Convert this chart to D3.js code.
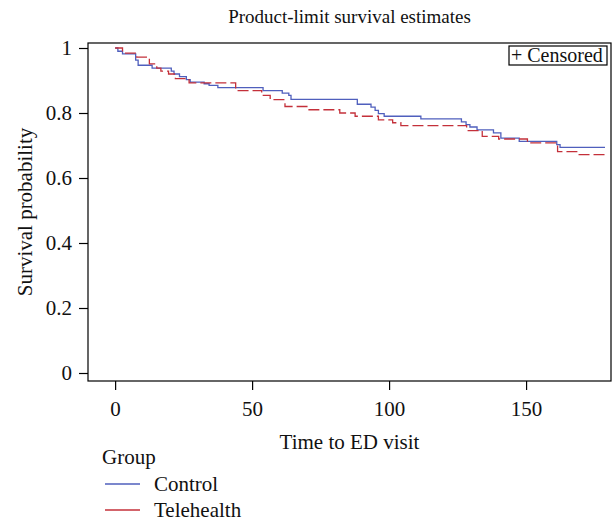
<!DOCTYPE html>
<html>
<head>
<meta charset="utf-8">
<script src="https://cdn.jsdelivr.net/npm/d3@7"></script>
<style>
	body { margin: 0; background: #fff; }
	text { font-family: "Liberation Serif", "DejaVu Serif", serif; fill: #111; }
</style>
</head>
<body>
<svg id="chart" width="615" height="520"></svg>
<script>
// step estimates: time of each drop and survival after it
const controlTimes = [0, 1.0, 2.7, 7.5, 8.4, 13.5, 20.5, 21.5, 23.5, 26, 27.4, 32.5, 34.3, 37.5, 54, 61, 63.4, 64.2, 88.4, 93.4, 94.9, 96.1, 98.2, 111.6, 126.4, 128.1, 129.5, 132.1, 138.1, 140.8, 147.5, 161.2, 162.4]
const controlSurv = [1.0, 0.99, 0.982, 0.963, 0.947, 0.938, 0.929, 0.92, 0.912, 0.903, 0.895, 0.89, 0.885, 0.878, 0.869, 0.861, 0.854, 0.842, 0.827, 0.818, 0.808, 0.798, 0.79, 0.782, 0.773, 0.764, 0.757, 0.748, 0.739, 0.723, 0.713, 0.703, 0.694]
const teleTimes = [0, 2.7, 7.9, 12.5, 15.2, 16.7, 19.5, 22, 27, 44, 53.5, 56.6, 62, 70, 82, 87.6, 96.1, 101.3, 104.3, 128.3, 134, 140, 150.5, 161.5, 168.5]
const teleSurv = [1.0, 0.984, 0.972, 0.951, 0.938, 0.929, 0.92, 0.906, 0.893, 0.869, 0.854, 0.841, 0.82, 0.81, 0.8, 0.79, 0.779, 0.77, 0.761, 0.746, 0.728, 0.72, 0.708, 0.681, 0.672]
const lastTime = 178.8

const groups = ['Control', 'Telehealth']
const groupColors = ['#4f5fbd', '#c4303a']
const xTicks = [0, 50, 100, 150]
const yTicks = [0, 0.2, 0.4, 0.6, 0.8, 1]

let svg = d3.select('#chart')

let box = {left: 88, right: 611, top: 43, bottom: 381}

let x = d3.scaleLinear()
	.domain([-9.9, 181])
	.range([box.left, box.right])
let y = d3.scaleLinear()
	.domain([-0.0246, 1.0154])
	.range([box.bottom, box.top])

svg.append('text')
	.attr('x', (box.left + box.right) / 2)
	.attr('y', 23)
	.attr('text-anchor', 'middle')
	.style('font-size', '19px')
	.text('Product-limit survival estimates')

// curves
let series = [
	{times: controlTimes, surv: controlSurv, dash: null},
	{times: teleTimes, surv: teleSurv, dash: '11,4'}
]
let line = d3.line()
	.x(d => x(d[0]))
	.y(d => y(d[1]))
	.curve(d3.curveStepAfter)

series.forEach((s, i) => {
	let pts = s.times.map((t, j) => [t, s.surv[j]])
	pts.push([lastTime, s.surv[s.surv.length - 1]])
	svg.append('path')
		.datum(pts)
		.attr('d', line)
		.attr('fill', 'none')
		.attr('stroke', groupColors[i])
		.attr('stroke-width', 1.3)
		.attr('stroke-dasharray', s.dash)
})

// frame
svg.append('rect')
	.attr('x', box.left)
	.attr('y', box.top)
	.attr('width', box.right - box.left)
	.attr('height', box.bottom - box.top)
	.attr('fill', 'none')
	.attr('stroke', '#000')
	.attr('stroke-width', 1.2)

// axes
let xAxis = svg.append('g')
	.attr('transform', `translate(0,${box.bottom})`)
	.call(d3.axisBottom(x).tickValues(xTicks).tickSize(9).tickPadding(11))
let yAxis = svg.append('g')
	.attr('transform', `translate(${box.left},0)`)
	.call(d3.axisLeft(y).tickValues(yTicks).tickSize(9).tickPadding(7).tickFormat(d3.format('')))

;[xAxis, yAxis].forEach(a => {
	a.select('.domain').remove()
	a.selectAll('line').attr('stroke', '#000').attr('stroke-width', 1.2)
	a.selectAll('text')
		.style('font-family', '"Liberation Serif", serif')
		.style('font-size', '21px')
		.attr('fill', '#111')
})

svg.append('text')
	.attr('x', (box.left + box.right) / 2)
	.attr('y', 449)
	.attr('text-anchor', 'middle')
	.style('font-size', '21px')
	.text('Time to ED visit')

svg.append('text')
	.attr('transform', `translate(32,${(box.top + box.bottom) / 2}) rotate(-90)`)
	.attr('text-anchor', 'middle')
	.style('font-size', '21px')
	.text('Survival probability')

// censored legend box
svg.append('rect')
	.attr('x', 509)
	.attr('y', 46)
	.attr('width', 98)
	.attr('height', 19)
	.attr('fill', '#fff')
	.attr('stroke', '#000')
	.attr('stroke-width', 1.2)
svg.append('text')
	.attr('x', 511)
	.attr('y', 62)
	.style('font-size', '20px')
	.text('+ Censored')

// group legend
svg.append('text')
	.attr('x', 102)
	.attr('y', 464)
	.style('font-size', '21px')
	.text('Group')

groups.forEach((g, i) => {
	let ly = 484 + i * 26
	svg.append('line')
		.attr('x1', 105)
		.attr('x2', 140)
		.attr('y1', ly)
		.attr('y2', ly)
		.attr('stroke', groupColors[i])
		.attr('stroke-width', 1.3)
	svg.append('text')
		.attr('x', 154)
		.attr('y', ly + 6.5)
		.style('font-size', '21px')
		.text(g)
})
</script>
</body>
</html>
